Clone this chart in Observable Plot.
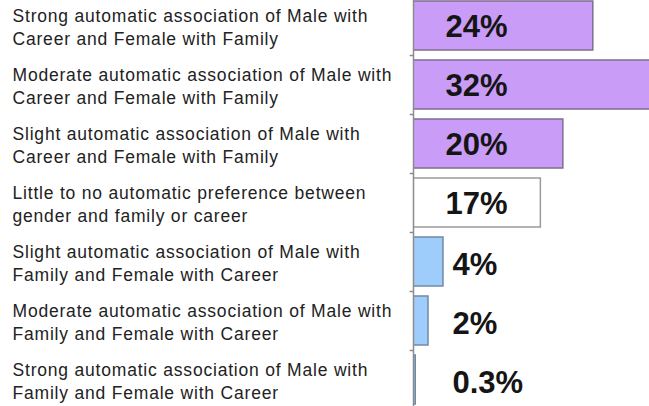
<!DOCTYPE html>
<html>
<head>
<meta charset="utf-8">
<script src="https://cdn.jsdelivr.net/npm/d3@7"></script>
<script src="https://cdn.jsdelivr.net/npm/@observablehq/plot@0.6"></script>
<style>
  html, body { margin: 0; padding: 0; background: #fff; }
  svg { display: block; }
</style>
</head>
<body>
<div id="chart"></div>
<script>
const categories = [
  "Strong automatic association of Male with\nCareer and Female with Family",
  "Moderate automatic association of Male with\nCareer and Female with Family",
  "Slight automatic association of Male with\nCareer and Female with Family",
  "Little to no automatic preference between\ngender and family or career",
  "Slight automatic association of Male with\nFamily and Female with Career",
  "Moderate automatic association of Male with\nFamily and Female with Career",
  "Strong automatic association of Male with\nFamily and Female with Career"
];
const values = [24, 32, 20, 17, 4, 2, 0.3];
const groups = ["Male–Career", "Male–Career", "Male–Career", "None", "Male–Family", "Male–Family", "Male–Family"];

const data = categories.map((c, i) => ({category: c, value: values[i], group: groups[i], idx: i}));

const chart = Plot.plot({
  width: 649,
  height: 406,
  marginLeft: 413,
  marginRight: 0,
  marginTop: 0,
  marginBottom: 0,
  style: {fontFamily: "Liberation Sans, Arial, sans-serif", background: "#fff"},
  x: {domain: [0, 31.5], axis: null},
  y: {domain: categories, range: [-4, 409], paddingInner: 0.17, paddingOuter: 0.085, axis: null},
  color: {domain: ["Male–Career", "None", "Male–Family"], range: ["#c99cf7", "#ffffff", "#9fcdfb"]},
  marks: [
    Plot.barX(data, {
      x: "value", y: "category", fill: "group",
      stroke: d => d.group === "Male–Career" ? "#7d6e8c" : d.group === "None" ? "#9a9a9a" : "#6f8aa3",
      strokeWidth: 1.5, clip: true
    }),
    Plot.ruleX([0], {stroke: "#8c8c8c", strokeWidth: 1.5}),
    Plot.ruleY(categories.slice(1), {y: d => d, x1: -0.45, x2: 0, dy: -29.5, stroke: "#8c8c8c", strokeWidth: 1.5}),
    Plot.text(data, {
      x: 0, y: "category", text: "category", textAnchor: "start", dx: -401, dy: 0,
      lineHeight: 1.31, fontSize: 17.5, fill: "#222"
    }),
    Plot.text(data.filter(d => d.idx < 4), {
      x: 0, y: "category", text: d => d.value + "%", textAnchor: "start",
      dx: 32, dy: 1, fontSize: 31, fontWeight: "bold", fill: "#151515"
    }),
    Plot.text(data.filter(d => d.idx >= 4), {
      x: 0, y: "category", text: d => d.value + "%", textAnchor: "start",
      dx: 39, dy: 3, fontSize: 31, fontWeight: "bold", fill: "#151515"
    })
  ]
});
const textGroups = d3.select(chart).selectAll('g[aria-label="text"]').nodes();
if (textGroups.length) d3.select(textGroups[0]).attr("letter-spacing", "0.8px").style("letter-spacing", "0.8px");
document.getElementById("chart").appendChild(chart);
</script>
</body>
</html>
